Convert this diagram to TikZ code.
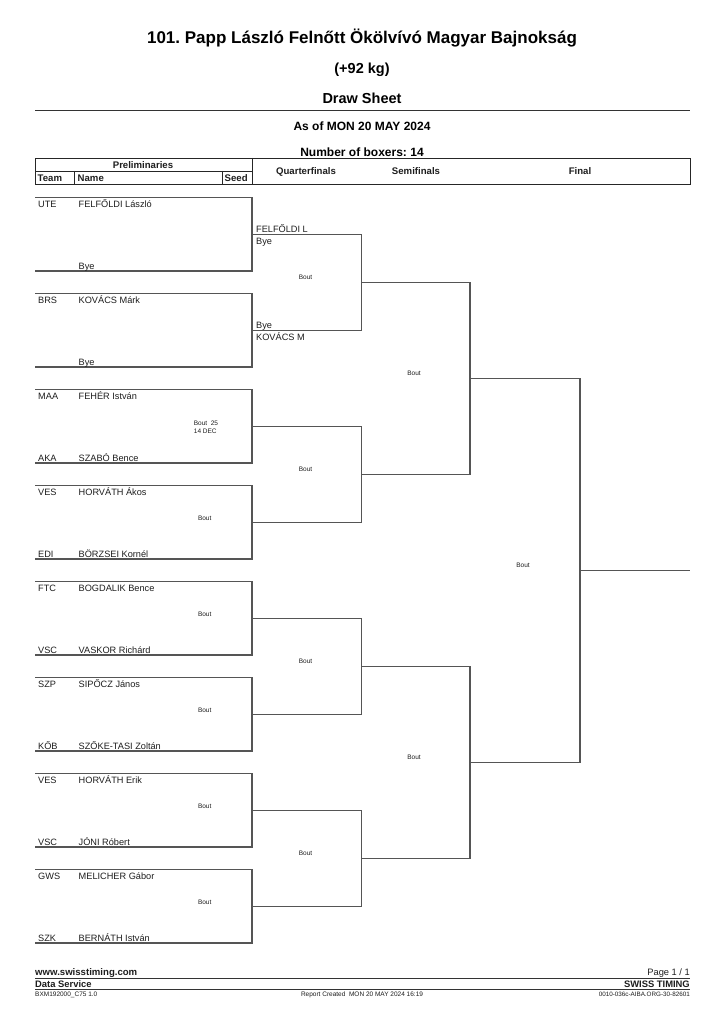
\documentclass[tikz,border=0pt]{standalone}
\usepackage{fontspec}
\setmainfont{Liberation Sans}
\frenchspacing
\newcommand\myfs[1]{\fontsize{#1}{#1}\selectfont}
\definecolor{brgray}{HTML}{555555}
\definecolor{txt}{HTML}{1E1E1E}
\begin{document}
\begin{tikzpicture}[x=1pt,y=-1pt,
  br/.style={draw=brgray, line width=1.2pt},
  hl/.style={draw=black!85, line width=0.8pt},
  nm/.style={anchor=base west, inner sep=0pt, text=txt, font=\myfs{9.2}},
  bt/.style={anchor=center, inner sep=0pt, text=txt, font=\myfs{6.5}},
  hd/.style={inner sep=0pt, text=txt, font=\bfseries\myfs{9.6}},
  ttl/.style={inner sep=0pt, text=black, font=\bfseries\myfs{#1}},
  ft/.style={inner sep=0pt, text=txt, font=\myfs{#1}},
  fb/.style={inner sep=0pt, text=txt, font=\bfseries\myfs{#1}}]
\useasboundingbox (0,0) rectangle (724,1024);
\fill[white] (0,0) rectangle (724,1024);

% Titles
\node[ttl=17] (title) at (362,38) {101. Papp László Felnőtt Ökölvívó Magyar Bajnokság};
\node[ttl=14.5] (wcls) at (362,70) {(+92 kg)};
\node[ttl=14.5] (draw) at (362,98) {Draw Sheet};
\coordinate (s1l) at (35,110);
\coordinate (s1r) at (690,110);
\draw[draw=black!80, line width=0.9pt] (s1l) -- (s1r);
\node[ttl=12] (asof) at (362,126) {As of MON 20 MAY 2024};
\node[ttl=12] (nbox) at (362,152) {Number of boxers: 14};

% Header table
\coordinate (h1) at (35,158);
\coordinate (h2) at (690,184);
\draw[hl] (h1) rectangle (h2);
\coordinate (hv1) at (252,158);
\coordinate (hv2) at (252,184);
\draw[hl] (hv1) -- (hv2);
\coordinate (hm1) at (35,171);
\coordinate (hm2) at (252,171);
\draw[hl] (hm1) -- (hm2);
\coordinate (ht1) at (74,171);
\coordinate (ht2) at (74,184);
\draw[hl] (ht1) -- (ht2);
\coordinate (hs1) at (222,171);
\coordinate (hs2) at (222,184);
\draw[hl] (hs1) -- (hs2);
\node[hd] (hprel) at (143,165) {Preliminaries};
\node[hd, anchor=base west] (hteam) at (37.5,181.8) {Team};
\node[hd, anchor=base west] (hname) at (77.5,181.8) {Name};
\node[hd, anchor=base west] (hseed) at (224.5,181.8) {Seed};
\node[hd] (hqf) at (306,171.5) {Quarterfinals};
\node[hd] (hsf) at (416,171.5) {Semifinals};
\node[hd] (hfin) at (580,171.5) {Final};

% Preliminary brackets
\foreach \k in {0,...,7}{
  \pgfmathsetmacro\yt{197.5+96*\k}
  \pgfmathsetmacro\yb{271+96*\k}
  \coordinate (pt\k l) at (35,\yt);
  \coordinate (pt\k r) at (252,\yt);
  \coordinate (pb\k r) at (252,\yb);
  \coordinate (pb\k l) at (35,\yb);
  \draw[br] (pt\k l) -- (pt\k r) -- (pb\k r) -- (pb\k l);
}
% Quarterfinal brackets
\foreach \j in {0,...,3}{
  \pgfmathsetmacro\yt{234.25+192*\j}
  \pgfmathsetmacro\yb{330.25+192*\j}
  \coordinate (qt\j l) at (252,\yt);
  \coordinate (qt\j r) at (361.5,\yt);
  \coordinate (qb\j r) at (361.5,\yb);
  \coordinate (qb\j l) at (252,\yb);
  \draw[br] (qt\j l) -- (qt\j r) -- (qb\j r) -- (qb\j l);
}
% Semifinal brackets
\foreach \i in {0,1}{
  \pgfmathsetmacro\yt{282.25+384*\i}
  \pgfmathsetmacro\yb{474.25+384*\i}
  \coordinate (st\i l) at (361.5,\yt);
  \coordinate (st\i r) at (470,\yt);
  \coordinate (sb\i r) at (470,\yb);
  \coordinate (sb\i l) at (361.5,\yb);
  \draw[br] (st\i l) -- (st\i r) -- (sb\i r) -- (sb\i l);
}
% Final
\coordinate (ftl) at (470,378.25);
\coordinate (ftr) at (580,378.25);
\coordinate (fbr) at (580,762.25);
\coordinate (fbl) at (470,762.25);
\draw[br] (ftl) -- (ftr) -- (fbr) -- (fbl);
\coordinate (wl) at (580,570.25);
\coordinate (wr) at (690,570.25);
\draw[br] (wl) -- (wr);

% Entries
\newcommand\entry[5]{% index, team top, name top, team bottom, name bottom
  \pgfmathsetmacro\yt{197.5+96*#1+10}
  \pgfmathsetmacro\yb{271+96*#1-1.8}
  \node[nm] (tt#1) at (38,\yt) {#2};
  \node[nm] (nt#1) at (78.5,\yt) {#3};
  \node[nm] (tb#1) at (38,\yb) {#4};
  \node[nm] (nb#1) at (78.5,\yb) {#5};
}
\entry{0}{UTE}{FELFŐLDI László}{}{Bye}
\entry{1}{BRS}{KOVÁCS Márk}{}{Bye}
\entry{2}{MAA}{FEHÉR István}{AKA}{SZABÓ Bence}
\entry{3}{VES}{HORVÁTH Ákos}{EDI}{BÖRZSEI Kornél}
\entry{4}{FTC}{BOGDALIK Bence}{VSC}{VASKOR Richárd}
\entry{5}{SZP}{SIPŐCZ János}{KŐB}{SZŐKE-TASI Zoltán}
\entry{6}{VES}{HORVÁTH Erik}{VSC}{JÓNI Róbert}
\entry{7}{GWS}{MELICHER Gábor}{SZK}{BERNÁTH István}

% Quarterfinal names
\node[nm] (q0a) at (256,232.3) {FELFŐLDI L};
\node[nm] (q0b) at (256,244.2) {Bye};
\node[nm] (q1a) at (256,328.3) {Bye};
\node[nm] (q1b) at (256,340.2) {KOVÁCS M};

% Bout labels
\node[bt, anchor=base west] (b25a) at (193.7,425) {Bout\ \ 25};
\node[bt, anchor=base west] (b25b) at (193.7,433.3) {14 DEC};
\foreach \k in {3,...,7}{
  \pgfmathsetmacro\yy{234.25+96*\k-4}
  \node[bt] (pb\k) at (204.7,\yy) {Bout};
}
\foreach \j in {0,...,3}{
  \pgfmathsetmacro\yy{282.25+192*\j-4.5}
  \node[bt] (qbout\j) at (305.5,\yy) {Bout};
}
\foreach \i in {0,1}{
  \pgfmathsetmacro\yy{378.25+384*\i-4.5}
  \node[bt] (sbout\i) at (414,\yy) {Bout};
}
\node[bt] (fbout) at (523,565.5) {Bout};

% Footer
\node[fb=9.6, anchor=base west] (www) at (35,975.5) {www.swisstiming.com};
\node[ft=9.3, anchor=base east] (page) at (690,975.5) {Page 1 / 1};
\coordinate (f1l) at (35,978);
\coordinate (f1r) at (690,978);
\draw[draw=black!80, line width=0.8pt] (f1l) -- (f1r);
\node[fb=9.4, anchor=base west] (dserv) at (35,987.3) {Data Service};
\node[fb=9.4, anchor=base east] (swiss) at (690,987.3) {SWISS TIMING};
\coordinate (f2l) at (35,989.5);
\coordinate (f2r) at (690,989.5);
\draw[draw=black!80, line width=0.8pt] (f2l) -- (f2r);
\node[ft=6.5, anchor=base west] (code) at (35,996.5) {BXM192000\_C75 1.0};
\node[ft=6.5, anchor=base] (rep) at (362,996.5) {Report Created\ \ MON 20 MAY 2024 16:19};
\node[ft=6.3, anchor=base east] (rid) at (690,996.5) {0010-036c-AIBA.ORG-30-82601};
\end{tikzpicture}
\end{document}
